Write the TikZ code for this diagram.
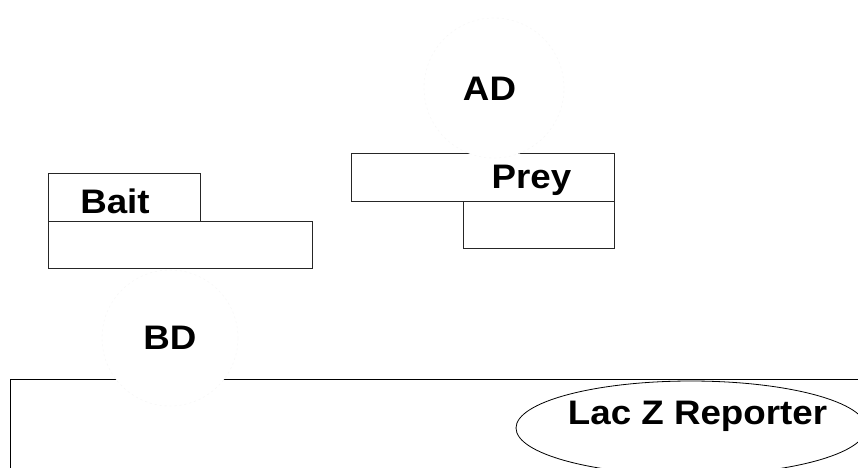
\documentclass[tikz,border=0pt]{standalone}
\usepackage{fontspec}
\setmainfont{Liberation Sans}[FakeStretch=1.08]
\usetikzlibrary{shapes.geometric}
\begin{document}
\begin{tikzpicture}[x=1pt,y=-1pt,
  boxpart/.style={draw=black!85, line width=0.9pt, fill=white, minimum width=#1, inner sep=0pt},
  cover/.style={circle, fill=white, draw=black!4, line width=0.4pt, dash pattern=on 2pt off 3pt, inner sep=0pt, minimum size=#1},
  lbl/.style={font=\fontsize{34}{36}\selectfont\bfseries, anchor=base, inner sep=0pt},
  frameline/.style={draw=black, line width=0.9pt}]
\useasboundingbox (0,0) rectangle (858,467);
\fill[white] (0,0) rectangle (858,467);
% bait
\node[boxpart=152pt, minimum height=48pt] (baittop) at (124,197) {};
\node[boxpart=264pt, minimum height=47pt] (baitlow) at (180,244.5) {};
% prey
\node[boxpart=263pt, minimum height=48pt] (preytop) at (482.5,177) {};
\node[boxpart=151pt, minimum height=47pt] (preylow) at (538.5,224.5) {};
% big frame
\coordinate (ftl) at (10,379);
\coordinate (ftr) at (870,379);
\coordinate (fbl) at (10,480);
\draw[frameline] (fbl) -- (ftl) -- (ftr);
% Lac Z ellipse
\node[ellipse, draw=black, line width=0.8pt, minimum width=350pt, minimum height=94pt, inner sep=0pt] (lacz) at (691,428) {};
% covering circles
\node[cover=140pt] (adc) at (494,88) {};
\node[cover=136pt] (bdc) at (170,338) {};
% labels
\node[lbl] (bait) at (115,213) {Bait};
\node[lbl] (prey) at (531.5,188) {Prey};
\node[lbl] (ad) at (489.5,100) {AD};
\node[lbl] (bd) at (170,349) {BD};
\node[lbl] (lacztext) at (697.5,424) {Lac Z Reporter};
\end{tikzpicture}
\end{document}
